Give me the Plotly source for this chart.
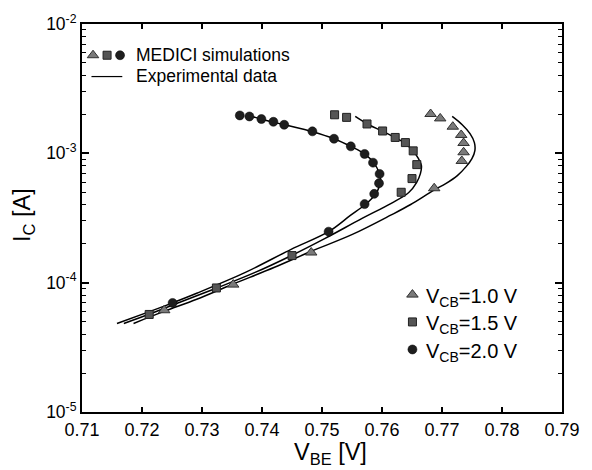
import plotly.graph_objects as go

# ---------------- data ----------------
# MEDICI simulation points
v_sim_10 = [0.7681, 0.7697, 0.7718, 0.7732, 0.7736, 0.7736, 0.7733, 0.7687, 0.7482, 0.7352, 0.7237]
i_sim_10 = [2.014e-3, 1.862e-3, 1.607e-3, 1.387e-3, 1.202e-3, 1.019e-3, 8.73e-4, 5.37e-4, 1.71e-4, 9.66e-5, 6.12e-5]

v_sim_15 = [0.7521, 0.7541, 0.7575, 0.7601, 0.7622, 0.7639, 0.7652, 0.7658, 0.7650, 0.7632, 0.7450, 0.7324, 0.7212]
i_sim_15 = [1.986e-3, 1.897e-3, 1.687e-3, 1.489e-3, 1.327e-3, 1.211e-3, 1.045e-3, 8.18e-4, 6.38e-4, 5.00e-4, 1.62e-4, 9.10e-5, 5.68e-5]

v_sim_20 = [0.7363, 0.7379, 0.7399, 0.7419, 0.7437, 0.7484, 0.7520, 0.7548, 0.7571, 0.7585, 0.7596, 0.7595,
            0.7587, 0.7571, 0.7511, 0.7251]
i_sim_20 = [1.963e-3, 1.928e-3, 1.841e-3, 1.754e-3, 1.663e-3, 1.479e-3, 1.297e-3, 1.132e-3, 9.89e-4, 8.47e-4,
            6.93e-4, 5.87e-4, 4.86e-4, 4.05e-4, 2.48e-4, 6.97e-5]

# Experimental data (curves)
v_exp_10 = [0.77170, 0.77337, 0.77467, 0.77540, 0.77548, 0.77499, 0.77402, 0.77256, 0.77062, 0.76867, 0.76478,
            0.76154, 0.75506, 0.74825, 0.74209, 0.73512, 0.72912, 0.72378, 0.71859]
i_exp_10 = [1.928e-3, 1.663e-3, 1.419e-3, 1.211e-3, 1.050e-3, 9.10e-4, 7.89e-4, 6.73e-4, 5.83e-4, 5.20e-4, 4.02e-4,
            3.34e-4, 2.36e-4, 1.75e-4, 1.315e-4, 9.72e-5, 7.45e-5, 6.02e-5, 4.84e-5]

v_exp_15 = [0.75554, 0.75749, 0.76008, 0.76219, 0.76381, 0.76511, 0.76608, 0.76657, 0.76640, 0.76576, 0.76446,
            0.76154, 0.75668, 0.75052, 0.74501, 0.73885, 0.73237, 0.72588, 0.72118, 0.71697]
i_exp_15 = [1.928e-3, 1.694e-3, 1.483e-3, 1.321e-3, 1.199e-3, 1.050e-3, 9.10e-4, 8.04e-4, 6.97e-4, 5.94e-4, 4.98e-4,
            4.11e-4, 3.14e-4, 2.20e-4, 1.63e-4, 1.20e-4, 9.06e-5, 6.93e-5, 5.70e-5, 4.84e-5]

v_exp_20 = [0.73853, 0.73982, 0.74371, 0.74841, 0.75198, 0.75487, 0.75714, 0.75860, 0.75951, 0.75976, 0.75927,
            0.75830, 0.75700, 0.75473, 0.75117, 0.74485, 0.73723, 0.72912, 0.72507, 0.72102, 0.71583]
i_exp_20 = [1.919e-3, 1.841e-3, 1.663e-3, 1.469e-3, 1.297e-3, 1.127e-3, 9.86e-4, 8.47e-4, 7.10e-4, 6.17e-4, 5.15e-4,
            4.48e-4, 3.95e-4, 3.31e-4, 2.49e-4, 1.81e-4, 1.20e-4, 8.28e-5, 6.97e-5, 5.92e-5, 4.84e-5]

x_ticks = [0.71, 0.72, 0.73, 0.74, 0.75, 0.76, 0.77, 0.78, 0.79]
x_ticklabels = ["0.71", "0.72", "0.73", "0.74", "0.75", "0.76", "0.77", "0.78", "0.79"]
y_ticks = [1e-5, 1e-4, 1e-3, 1e-2]
y_ticklabels = ["10<sup>-5</sup>", "10<sup>-4</sup>", "10<sup>-3</sup>", "10<sup>-2</sup>"]
y_minor = [m * 10.0 ** e for e in (-5, -4, -3) for m in range(2, 10)]

series_labels = ["V<sub>CB</sub>=1.0 V", "V<sub>CB</sub>=1.5 V", "V<sub>CB</sub>=2.0 V"]

# ---------------- styles ----------------
FONT = "Arial, Liberation Sans, sans-serif"
W, H = 592, 470
L, R, T, B = 82, 574, 23, 412  # plot-area pixel edges

tri_style = dict(symbol="triangle-up", size=10, color="#7a7a7a", line=dict(color="#303030", width=1))
sq_style = dict(symbol="square", size=8, color="#555555", line=dict(color="#202020", width=1))
cir_style = dict(symbol="circle", size=9, color="#1e1e1e", line=dict(color="#000000", width=0.5))
line_style = dict(color="black", width=1.5)


def px(xp):
    return (xp - L) / (R - L)


def py(yp):
    return (B - yp) / (B - T)


fig = go.Figure()

# experimental curves
for v, i in [(v_exp_10, i_exp_10), (v_exp_15, i_exp_15), (v_exp_20, i_exp_20)]:
    fig.add_trace(go.Scatter(x=v, y=i, mode="lines", line=line_style, line_shape="spline",
                             showlegend=False, hoverinfo="skip"))

# simulation markers
for v, i, st in [(v_sim_10, i_sim_10, tri_style), (v_sim_15, i_sim_15, sq_style), (v_sim_20, i_sim_20, cir_style)]:
    fig.add_trace(go.Scatter(x=v, y=i, mode="markers", marker=st, showlegend=False))

# ---------------- legend glyphs on an overlay (pixel-mapped) axis ----------------
leg1_y = 54.3
for xg, st in [(93.3, tri_style), (107.7, sq_style), (121.0, cir_style)]:
    fig.add_trace(go.Scatter(x=[px(xg)], y=[py(leg1_y)], mode="markers", marker=st,
                             xaxis="x2", yaxis="y2", showlegend=False, hoverinfo="skip"))
fig.add_trace(go.Scatter(x=[px(91.7), px(123.3)], y=[py(75.7), py(75.7)], mode="lines",
                         line=dict(color="black", width=1.2), xaxis="x2", yaxis="y2",
                         showlegend=False, hoverinfo="skip"))

leg2_ys = [294.3, 321.7, 349.3]
for yg, st in zip(leg2_ys, [tri_style, sq_style, cir_style]):
    fig.add_trace(go.Scatter(x=[px(420.7)], y=[py(yg)], mode="markers", marker=st,
                             xaxis="x2", yaxis="y2", showlegend=False, hoverinfo="skip"))

annotations = [
    dict(x=px(135), y=py(54.5), text="MEDICI simulations", xanchor="left", yanchor="middle"),
    dict(x=px(135), y=py(75.5), text="Experimental data", xanchor="left", yanchor="middle"),
]
for yg, lab in zip(leg2_ys, series_labels):
    annotations.append(dict(x=px(433), y=py(yg + 3), text=lab, xanchor="left", yanchor="middle",
                            font=dict(size=20)))
for a in annotations:
    a.setdefault("font", dict(size=17.5))
    a.update(xref="paper", yref="paper", showarrow=False)
    a["font"].update(family=FONT, color="black")

# axis titles
annotations.append(dict(xref="paper", yref="paper", x=px(337), y=py(454), text="V<sub>BE</sub> [V]",
                        showarrow=False, xanchor="center", yanchor="middle",
                        font=dict(family=FONT, size=23.5, color="black")))
annotations.append(dict(xref="paper", yref="paper", x=px(22), y=py(214), text="I<sub>C</sub> [A]",
                        showarrow=False, xanchor="center", yanchor="middle", textangle=-90,
                        font=dict(family=FONT, size=23.5, color="black")))

fig.update_layout(
    width=W, height=H,
    margin=dict(l=L, r=W - R, t=T, b=H - B),
    paper_bgcolor="white", plot_bgcolor="white",
    font=dict(family=FONT, size=17.5, color="black"),
    annotations=annotations,
    xaxis=dict(range=[0.71, 0.79], tickmode="array", tickvals=x_ticks, ticktext=x_ticklabels,
               ticks="inside", ticklen=5, tickwidth=1.5, tickcolor="black",
               showline=True, linecolor="black", linewidth=2, mirror="allticks",
               showgrid=False, zeroline=False, tickfont=dict(size=18)),
    yaxis=dict(type="log", range=[-5, -2], tickmode="array", tickvals=y_ticks, ticktext=y_ticklabels,
               ticks="inside", ticklen=7, tickwidth=1.5, tickcolor="black",
               showline=True, linecolor="black", linewidth=2, mirror="allticks",
               showgrid=False, zeroline=False, tickfont=dict(size=17.5),
               minor=dict(tickmode="array", tickvals=y_minor, ticks="inside", ticklen=4,
                          tickwidth=1.2, tickcolor="black", showgrid=False)),
    xaxis2=dict(overlaying="x", range=[0, 1], visible=False, fixedrange=True),
    yaxis2=dict(overlaying="y", range=[0, 1], visible=False, fixedrange=True),
)

fig.write_html("out.html")
